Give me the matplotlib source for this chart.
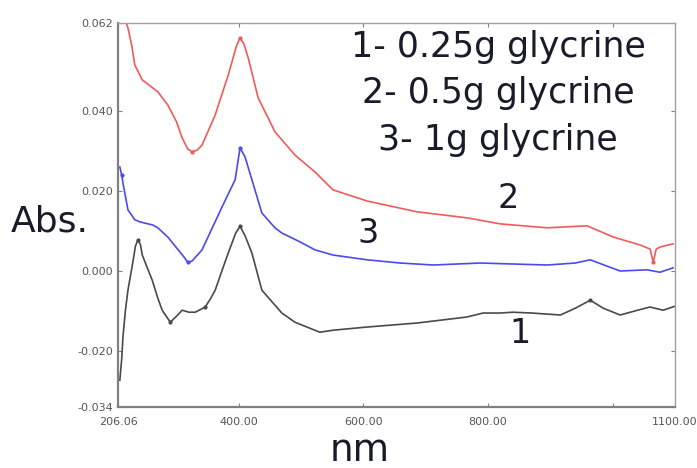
import matplotlib
matplotlib.use('Agg')
import matplotlib.pyplot as plt

# wavelength (nm) / absorbance
nm_1 = [209, 212, 214, 218, 222, 230, 234, 238, 242, 245, 261, 270, 277, 290, 300, 309, 320, 330,
        340, 346, 355, 362, 375, 383, 395, 402, 410, 421, 437, 455, 469, 490, 522, 530,
        551, 606, 686, 766, 792, 819, 840, 870, 916, 940, 964, 985, 1012, 1040, 1060, 1081, 1100]
abs_1 = [-0.0273, -0.022, -0.0165, -0.0098, -0.0048, 0.0023, 0.0062, 0.0078, 0.0066, 0.004, -0.0023,
         -0.0068, -0.0098, -0.0128, -0.0113, -0.0098, -0.0103, -0.0103, -0.0095, -0.009, -0.0068,
         -0.0048, 0.001, 0.0045, 0.0095, 0.0112, 0.0088, 0.0045, -0.0048, -0.008, -0.0105, -0.0128,
         -0.0148, -0.0153, -0.0148, -0.014, -0.013, -0.0115, -0.0105, -0.0105, -0.0103, -0.0105,
         -0.011, -0.0093, -0.0073, -0.0093, -0.011, -0.0098, -0.009, -0.0098, -0.0088]

nm_2 = [217, 222, 228, 233, 245, 270, 286, 300, 309, 318, 325, 333, 341, 362, 383, 396, 402, 408,
        415, 431, 458, 490, 522, 551, 606, 686, 766, 819, 895, 959, 1001, 1044, 1060, 1065, 1070,
        1076, 1097]
abs_2 = [0.063, 0.0608, 0.0565, 0.0515, 0.0478, 0.0448, 0.0415, 0.0373, 0.0333, 0.0305, 0.0298,
         0.0302, 0.0315, 0.039, 0.049, 0.0562, 0.0583, 0.0568, 0.0533, 0.0433, 0.0348, 0.029,
         0.0248, 0.0203, 0.0175, 0.0148, 0.0133, 0.0118, 0.0108, 0.0113, 0.0085, 0.0065, 0.0055,
         0.0023, 0.0055, 0.006, 0.0068]

nm_3 = [209, 212, 214, 217, 222, 233, 241, 262, 270, 286, 300, 312, 318, 325, 341, 346, 373, 394,
        402, 410, 421, 437, 458, 469, 498, 522, 551, 606, 659, 712, 787, 895, 940, 964, 1012,
        1055, 1076, 1097]
abs_3 = [0.026, 0.024, 0.022, 0.0195, 0.0153, 0.0128, 0.0123, 0.0115, 0.0108, 0.0085, 0.0058,
         0.0035, 0.0022, 0.0025, 0.0053, 0.007, 0.016, 0.0228, 0.0308, 0.0285, 0.0228, 0.0145,
         0.0108, 0.0095, 0.0073, 0.0053, 0.004, 0.0028, 0.002, 0.0015, 0.002, 0.0015, 0.002,
         0.0028, 0.0, 0.0003, -0.0003, 0.0008]

# small peak-pick markers (indices into the series above)
marks_1 = [7, 13, 19, 25, 44]
marks_2 = [10, 16, 33]
marks_3 = [1, 12, 18]

x_ticks = [206.06, 400, 600, 800, 1000, 1100]
x_labels = ['206.06', '400.00', '600.00', '800.00', '', '1100.00']
y_ticks = [-0.034, -0.020, 0.000, 0.020, 0.040, 0.062]
y_labels = ['-0.034', '-0.020', '0.000', '0.020', '0.040', '0.062']
legend_lines = ['1- 0.25g glycrine', '2- 0.5g glycrine', '3- 1g glycrine']

fig = plt.figure(figsize=(6.97, 4.68), dpi=100)
ax = fig.add_axes([0.1693, 0.1303, 0.7991, 0.8205])

ax.plot(nm_2, abs_2, color='#f05a5a', lw=1.2, marker='.', ms=4, markevery=marks_2)
ax.plot(nm_3, abs_3, color='#4a4af0', lw=1.2, marker='.', ms=4, markevery=marks_3)
ax.plot(nm_1, abs_1, color='#4a4a4a', lw=1.2, marker='.', ms=4, markevery=marks_1)

ax.set_xlim(206.06, 1100)
ax.set_ylim(-0.034, 0.062)
ax.set_xticks(x_ticks)
ax.set_xticklabels(x_labels)
ax.set_yticks(y_ticks)
ax.set_yticklabels(y_labels)
ax.tick_params(direction='in', length=3, color='#808080', labelcolor='#555555',
               labelsize=8, top=True, right=True)
ax.tick_params(axis='x', pad=7)
for s in ['left', 'bottom']:
    ax.spines[s].set_color('#808080')
    ax.spines[s].set_linewidth(1.6)
for s in ['top', 'right']:
    ax.spines[s].set_color('#a0a0a0')
    ax.spines[s].set_linewidth(1.0)

# legend text block
for txt, yb in zip(legend_lines, [0.878, 0.780, 0.679]):
    fig.text(0.715, yb, txt, fontsize=25, ha='center', va='baseline', color='#1a1a2a')

# curve numbers
fig.text(0.729, 1 - 208 / 468, '2', fontsize=24, ha='center', va='baseline', color='#1a1a2a')
fig.text(0.528, 1 - 243 / 468, '3', fontsize=24, ha='center', va='baseline', color='#1a1a2a')
fig.text(0.746, 1 - 343 / 468, '1', fontsize=24, ha='center', va='baseline', color='#1a1a2a')

fig.text(0.016, 1 - 231 / 468, 'Abs.', fontsize=26, ha='left', va='baseline', color='#1a1a2a')
fig.text(0.516, 0.014, 'nm', fontsize=27, ha='center', va='baseline', color='#1a1a2a')

fig.savefig('out.png', dpi=100)
